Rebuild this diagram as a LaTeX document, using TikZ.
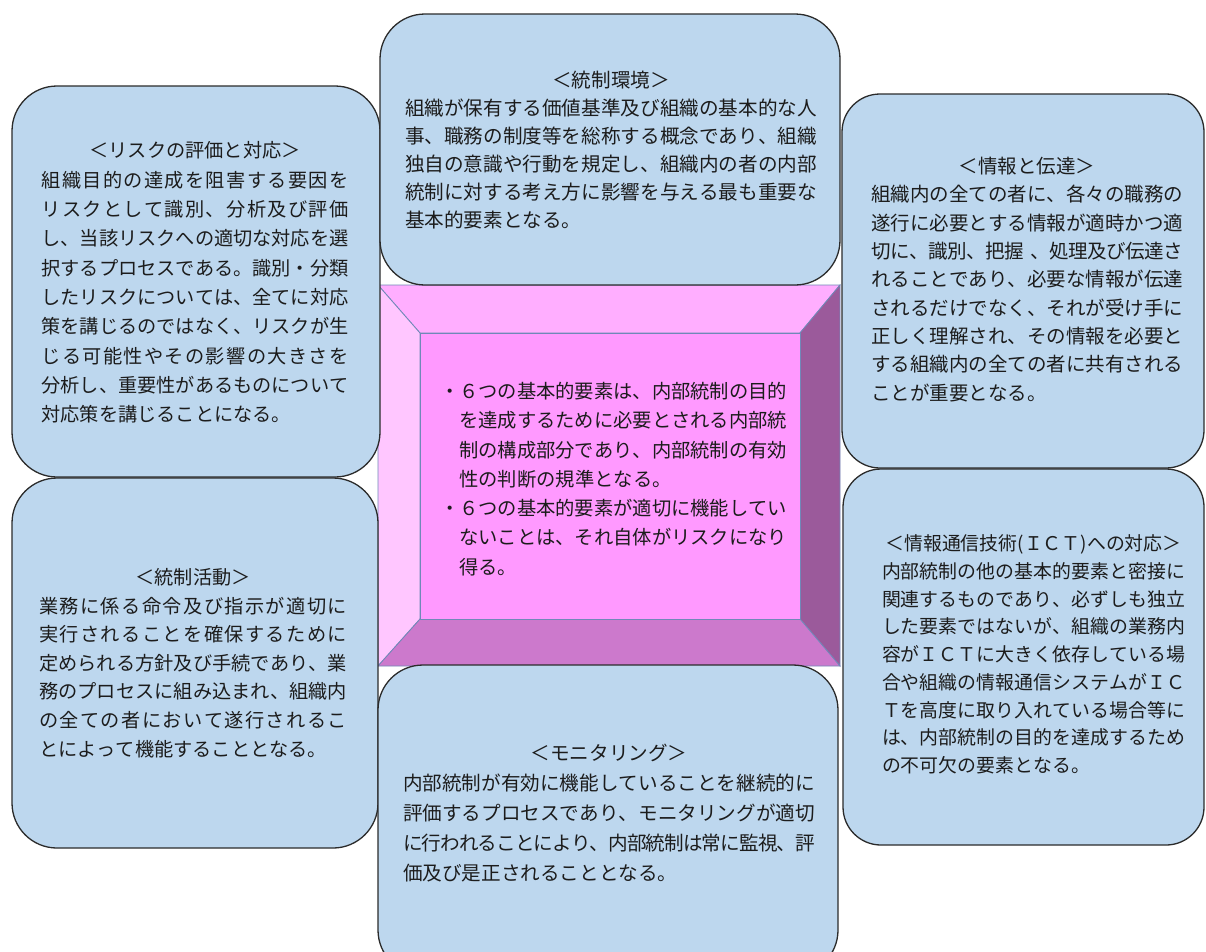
\documentclass[tikz,border=0pt]{standalone}
\usepackage{fontspec}
\setmainfont{Noto Sans CJK JP}
\XeTeXinterchartokenstate=1
\newcount\cjkc
\cjkc="3000
\loop\ifnum\cjkc<"A000 \XeTeXcharclass\cjkc=1 \advance\cjkc by 1 \repeat
\cjkc="FF00
\loop\ifnum\cjkc<"FFF0 \XeTeXcharclass\cjkc=1 \advance\cjkc by 1 \repeat
\XeTeXinterchartoks 1 1 = {\hskip 0pt plus 2pt minus 1pt\relax}
\definecolor{boxfill}{HTML}{BDD7EE}
\definecolor{boxline}{HTML}{2B2B2B}
\definecolor{bevline}{HTML}{7088B8}
\definecolor{bevtop}{HTML}{FFAEFF}
\definecolor{bevleft}{HTML}{FFC6FF}
\definecolor{bevmid}{HTML}{FF99FF}
\definecolor{bevright}{HTML}{9B5A9B}
\definecolor{bevbot}{HTML}{CC79CC}
\definecolor{txtcol}{HTML}{1C1C1C}
\newcommand\ttlline[1]{\makebox[\hsize]{#1}\par}
\newcommand\fulline[1]{\makebox[\hsize][s]{#1}\par}
\newcommand\lastline[1]{\mbox{#1}\par}
\begin{document}
\begin{tikzpicture}[x=1pt,y=-1pt,
  box/.style={draw=boxline, line width=1.3pt, fill=boxfill, rounded corners=45pt, inner sep=0pt},
  rbox/.style={box, rounded corners=38pt},
  txt/.style={inner sep=0pt, text=txtcol,
    execute at begin node={\setlength\parindent{0pt}\setlength\parskip{0pt}}},
  bev/.style={draw=bevline, line width=0.8pt, line join=miter}]
\useasboundingbox (0,0) rectangle (1206,951);
\clip (0,0) rectangle (1206,951);

% central bevel
\coordinate (OA) at (378,285);
\coordinate (OB) at (840,285);
\coordinate (OC) at (840,666);
\coordinate (OD) at (378,666);
\coordinate (IA) at (420,333);
\coordinate (IB) at (800,333);
\coordinate (IC) at (800,619);
\coordinate (ID) at (420,619);
\filldraw[bev, fill=bevtop] (OA) -- (OB) -- (IB) -- (IA) -- cycle;
\filldraw[bev, fill=bevleft] (OA) -- (IA) -- (ID) -- (OD) -- cycle;
\filldraw[bev, fill=bevright] (OB) -- (OC) -- (IC) -- (IB) -- cycle;
\filldraw[bev, fill=bevbot] (OD) -- (ID) -- (IC) -- (OC) -- cycle;
\filldraw[bev, fill=bevmid] (IA) -- (IB) -- (IC) -- (ID) -- cycle;

% boxes
\node[box, minimum width=368pt, minimum height=391pt] (risk) at (196,281.5) {};
\node[box, minimum width=460pt, minimum height=271pt] (env) at (610,149.5) {};
\node[rbox, minimum width=362pt, minimum height=374pt] (info) at (1023,281) {};
\node[box, minimum width=366pt, minimum height=370pt] (act) at (195,663) {};
\node[rbox, minimum width=361pt, minimum height=376pt] (ict) at (1023.5,657) {};
\node[box, minimum width=460pt, minimum height=310pt] (mon) at (608,820) {};

% texts
\node[txt, text width=307pt, font={\fontsize{19.2}{29.3}\selectfont}] (risktxt) at (195,282.5) {%
\ttlline{＜リスクの評価と対応＞}
\fulline{組織目的の達成を阻害する要因を}
\fulline{リスクとして識別、分析及び評価}
\fulline{し、当該リスクへの適切な対応を選}
\fulline{択するプロセスである。識別・分類}
\fulline{したリスクについては、全てに対応}
\fulline{策を講じるのではなく、リスクが生}
\fulline{じる可能性やその影響の大きさを}
\fulline{分析し、重要性があるものについて}
\lastline{対応策を講じることになる。}};

\node[txt, text width=412pt, font={\fontsize{19.6}{28}\selectfont}] (envtxt) at (611,150) {%
\ttlline{＜統制環境＞}
\fulline{組織が保有する価値基準及び組織の基本的な人}
\fulline{事、職務の制度等を総称する概念であり、組織}
\fulline{独自の意識や行動を規定し、組織内の者の内部}
\fulline{統制に対する考え方に影響を与える最も重要な}
\lastline{基本的要素となる。}};

\node[txt, text width=312pt, font={\fontsize{19.5}{28.3}\selectfont}] (infotxt) at (1027,279.5) {%
\ttlline{＜情報と伝達＞}
\fulline{組織内の全ての者に、各々の職務の}
\fulline{遂行に必要とする情報が適時かつ適}
\fulline{切に、識別、把握 、処理及び伝達さ}
\fulline{れることであり、必要な情報が伝達}
\fulline{されるだけでなく、それが受け手に}
\fulline{正しく理解され、その情報を必要と}
\fulline{する組織内の全ての者に共有される}
\lastline{ことが重要となる。}};

\node[txt, text width=308pt, font={\fontsize{19.2}{28.6}\selectfont}] (acttxt) at (193,663) {%
\ttlline{＜統制活動＞}
\fulline{業務に係る命令及び指示が適切に}
\fulline{実行されることを確保するために}
\fulline{定められる方針及び手続であり、業}
\fulline{務のプロセスに組み込まれ、組織内}
\fulline{の全ての者において遂行されるこ}
\lastline{とによって機能することとなる。}};

\node[txt, text width=303pt, font={\fontsize{18.9}{27.7}\selectfont}] (icttxt) at (1033.5,654.5) {%
\ttlline{＜情報通信技術(ＩＣＴ)への対応＞}
\fulline{内部統制の他の基本的要素と密接に}
\fulline{関連するものであり、必ずしも独立}
\fulline{した要素ではないが、組織の業務内}
\fulline{容がＩＣＴに大きく依存している場}
\fulline{合や組織の情報通信システムがＩＣ}
\fulline{Ｔを高度に取り入れている場合等に}
\fulline{は、内部統制の目的を達成するため}
\lastline{の不可欠の要素となる。}};

\node[txt, text width=412pt, font={\fontsize{19.6}{30}\selectfont}] (montxt) at (609,813) {%
\ttlline{＜モニタリング＞}
\fulline{内部統制が有効に機能していることを継続的に}
\fulline{評価するプロセスであり、モニタリングが適切}
\fulline{に行われることにより、内部統制は常に監視、評}
\lastline{価及び是正されることとなる。}};

\node[txt, text width=347pt, font={\fontsize{19.3}{29.3}\selectfont}] (coretxt) at (613.5,479) {%
\fulline{・６つの基本的要素は、内部統制の目的}
\fulline{\hspace*{1em}を達成するために必要とされる内部統}
\fulline{\hspace*{1em}制の構成部分であり、内部統制の有効}
\lastline{\hspace*{1em}性の判断の規準となる。}
\fulline{・６つの基本的要素が適切に機能してい}
\fulline{\hspace*{1em}ないことは、それ自体がリスクになり}
\lastline{\hspace*{1em}得る。}};
\end{tikzpicture}
\end{document}
